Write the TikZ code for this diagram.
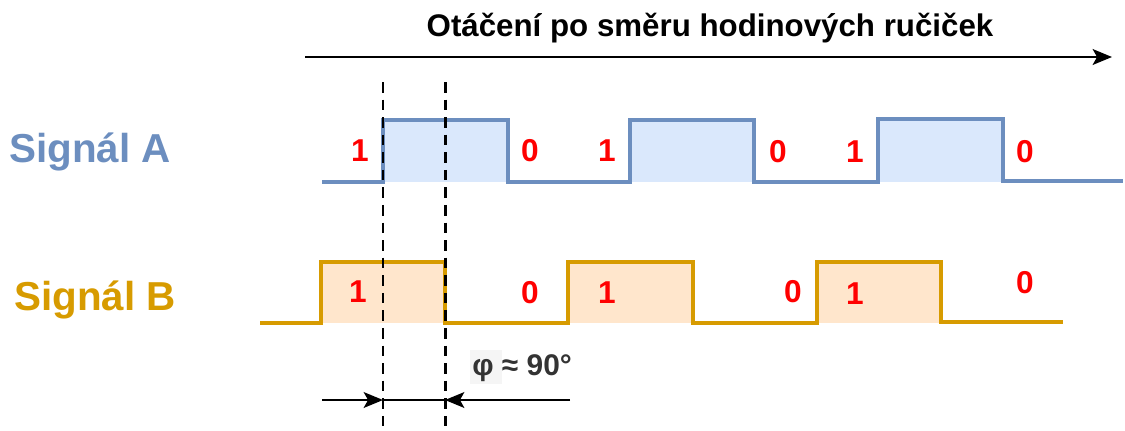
\documentclass[tikz,border=0pt]{standalone}
\usepackage{fontspec}
\setmainfont{Liberation Sans}
\usetikzlibrary{arrows.meta}
\definecolor{sigablue}{HTML}{6C8EBF}
\definecolor{sigafill}{HTML}{DAE8FC}
\definecolor{sigborange}{HTML}{D79B00}
\definecolor{sigbfill}{HTML}{FFE6CC}
\definecolor{bitred}{HTML}{FF0000}
\definecolor{phigray}{HTML}{333333}

\begin{document}
\begin{tikzpicture}[
          x=0.02cm, y=-0.02cm,
          wave/.style={
              line width=2.2pt,
              line join=miter
            },
          bit/.style={
              font=\fontsize{18}{18}\selectfont\bfseries,
              text=bitred,
              inner sep=0pt
            },
          siglabel/.style={
              font=\fontsize{23}{23}\selectfont\bfseries,
              inner sep=0pt
            },
          guide/.style={line width=1.7pt, dash pattern=on 6pt off 4pt},
          arr/.style={-{Stealth[length=11pt, width=9pt, inset=2.5pt]}, line width=1.2pt}
        ]
        \useasboundingbox (0,0) rectangle (1125,430);

        % direction of rotation
        \node[font=\fontsize{17.8}{17.8}\selectfont\bfseries] (rot) at (710,28) {Otáčení po směru hodinových ručiček};
        \coordinate (rotS) at (305,57);
        \coordinate (rotE) at (1112,57);
        \draw[arr, line width=1.4pt] (rotS) -- (rotE);

        % signal A
        \foreach \a/\b in {383/508, 630/754, 878/1003}
          \fill[sigafill] (\a,120) rectangle (\b,182);
        \draw[wave, sigablue] (322,182) -| (383,120) -| (508,182) -| (630,120) -| (754,182)
          -| (878,119) -| (1003,181) -- (1123,181);
        \node[siglabel, text=sigablue] (sigA) at (90,152) {Signál A};
        \node[bit] (a1) at (360,151) {1};
        \node[bit] (a2) at (530,151) {0};
        \node[bit] (a3) at (607,151) {1};
        \node[bit] (a4) at (778,152) {0};
        \node[bit] (a5) at (855,152) {1};
        \node[bit] (a6) at (1025,152) {0};

        % signal B
        \foreach \a/\b in {321/445, 568/693, 817/941}
          \fill[sigbfill] (\a,262) rectangle (\b,323);
        \draw[wave, sigborange] (260,323) -| (321,262) -| (445,323) -| (568,262) -| (693,323)
          -| (817,262) -| (941,322) -- (1063,322);
        \node[siglabel, text=sigborange] (sigB) at (95,300) {Signál B};
        \node[bit] (b1) at (358,292) {1};
        \node[bit] (b2) at (530,293) {0};
        \node[bit] (b3) at (607,293) {1};
        \node[bit] (b4) at (793,292) {0};
        \node[bit] (b5) at (855,294) {1};
        \node[bit] (b6) at (1025,283) {0};

        % phase shift
        \coordinate (gA) at (383,82);
        \coordinate (gAend) at (383,430);
        \coordinate (gB) at (445,82);
        \coordinate (gBend) at (445,430);
        \draw[guide] (gA) -- (gAend);
        \draw[guide] (gB) -- (gBend);
        \coordinate (dimL) at (322,400);
        \coordinate (dimR) at (570,400);
        \coordinate (phiL) at (383,400);
        \coordinate (phiR) at (445,400);
        \draw[arr] (dimL) -- (phiL);
        \draw[arr] (dimR) -- (phiR);
        \draw[line width=1.2pt] (phiL) -- (phiR);
        \fill[black!4] (470,350) rectangle (502,384);
        \node[font=\fontsize{17}{17}\selectfont\bfseries, text=phigray, anchor=west, inner sep=0pt] (phi) at (472,368) {φ ≈ 90°};
      \end{tikzpicture}
\end{document}
